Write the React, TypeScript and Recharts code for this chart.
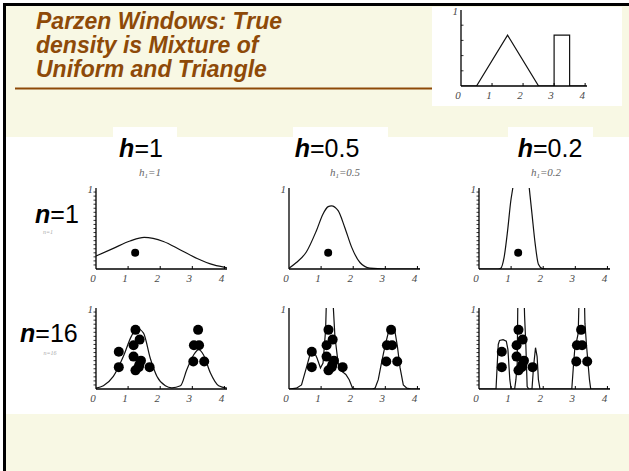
import React from "react";
import { ComposedChart, Line, Scatter, XAxis, YAxis } from "recharts";

type Pt = [number, number];

// ---- axis ticks -------------------------------------------------------
const xTickValues = [0, 1, 2, 3, 4];
const yDenseTicks = [
  0.05, 0.1, 0.15, 0.2, 0.25, 0.3, 0.35, 0.4, 0.45, 0.5,
  0.55, 0.6, 0.65, 0.7, 0.75, 0.8, 0.85, 0.9, 0.95, 1,
];
const yTopOnly = [1];
const insetYTicks = [0.2, 0.4, 0.6, 0.8, 1];

// ---- true density: triangle + uniform ---------------------------------
const trueDensity: Pt[] = [
  [0, 0], [0.5, 0], [1.5, 0.67], [2.5, 0], [3, 0], [3, 0.67], [3.5, 0.67], [3.5, 0], [4, 0],
];

// ---- samples ----------------------------------------------------------
const singleSampleX = [1.22];
const singleSampleY = [0.2];
const samplesX = [1.23, 1.36, 1.17, 0.71, 1.17, 1.4, 0.71, 1.23, 1.33, 1.67, 1.35, 3.18, 3.05, 3.21, 3.03, 3.37];
const samplesY = [0.73, 0.61, 0.54, 0.46, 0.4, 0.35, 0.27, 0.23, 0.27, 0.27, 0.3, 0.73, 0.54, 0.54, 0.34, 0.34];

// ---- Parzen estimates, n = 1 ------------------------------------------
const estH1N1: Pt[] = [
  [0, 0.16], [0.54, 0.255], [1.06, 0.345], [1.5, 0.39], [2.1, 0.34], [2.63, 0.235],
  [3.15, 0.13], [3.67, 0.05], [4.08, 0.015],
];
const estH05N1: Pt[] = [
  [0, 0.01], [0.23, 0.08], [0.54, 0.21], [0.85, 0.47], [1.06, 0.68], [1.22, 0.77],
  [1.32, 0.78], [1.53, 0.72], [1.74, 0.51], [1.95, 0.27], [2.21, 0.08], [2.52, 0.01],
  [3, 0], [4.08, 0],
];
const estH02N1: Pt[] = [
  [0, 0], [0.6, 0], [0.68, 0.01], [0.78, 0.14], [0.89, 0.47], [0.99, 0.84], [1.06, 1.02],
  [1.3, 2.0], [1.56, 1.02], [1.65, 0.68], [1.75, 0.31], [1.85, 0.06], [1.98, 0.005],
  [2.1, 0], [4.08, 0],
];

// ---- Parzen estimates, n = 16 -----------------------------------------
const estH1N16: Pt[] = [
  [0, 0.01], [0.23, 0.04], [0.54, 0.155], [0.85, 0.4], [1.1, 0.65], [1.27, 0.75],
  [1.48, 0.69], [1.69, 0.38], [1.9, 0.155], [2.16, 0.04], [2.36, 0.015], [2.63, 0.04],
  [2.83, 0.24], [3.04, 0.42], [3.2, 0.485], [3.35, 0.42], [3.56, 0.2], [3.82, 0.04],
  [4.08, 0.01],
];
const estH05N16: Pt[] = [
  [0, 0], [0.23, 0.01], [0.39, 0.05], [0.54, 0.26], [0.65, 0.42], [0.75, 0.49],
  [0.875, 0.38], [0.98, 0.26], [1.06, 0.32], [1.14, 0.73], [1.18, 1.3], [1.26, 1.5],
  [1.34, 1.3], [1.43, 0.65], [1.53, 0.32], [1.64, 0.22], [1.77, 0.18], [1.875, 0.115],
  [1.98, 0.01], [2.1, 0], [2.6, 0], [2.68, 0.01], [2.78, 0.115], [2.89, 0.34],
  [2.99, 0.53], [3.09, 0.69], [3.22, 0.77], [3.3, 0.71], [3.375, 0.53], [3.46, 0.26],
  [3.56, 0.05], [3.67, 0.01], [3.8, 0], [4.08, 0],
];
const estH02N16: Pt[] = [
  [0, 0], [0.53, 0], [0.56, 0.24], [0.6, 0.55], [0.64, 0.6], [0.75, 0.61], [0.85, 0.59],
  [0.9, 0.49], [0.96, 0.115], [1.0, 0], [1.11, 0], [1.15, 0.115], [1.19, 0.32],
  [1.22, 1.5], [1.3, 1.8], [1.38, 1.5], [1.42, 0.9], [1.46, 0.53], [1.5, 0.03],
  [1.55, 0], [1.65, 0], [1.7, 0.28], [1.76, 0.51], [1.81, 0.4], [1.85, 0.115], [1.9, 0],
  [2.89, 0], [2.94, 0.28], [2.99, 0.53], [3.04, 0.59], [3.09, 0.69], [3.14, 1.5],
  [3.26, 1.5], [3.3, 0.81], [3.35, 0.53], [3.44, 0.115], [3.48, 0], [4.08, 0],
];

// ---- styling ------------------------------------------------------------
const FONT_SANS = "'Liberation Sans', Arial, sans-serif";
const FONT_SERIF = "'Liberation Serif', 'Times New Roman', serif";
const BEIGE = "#F8F8E4";
const BROWN = "#8E4A08";
const TICK_GRAY = "#4a4a4a";

const toRows = (pts: Pt[]) => pts.map(([x, y]) => ({ x, y }));
const zipRows = (xs: number[], ys: number[]) => xs.map((x, i) => ({ x, y: ys[i] }));

interface PanelProps {
  x0: number;
  y1: number;
  w: number;
  h: number;
  xMax: number;
  curve: Pt[];
  curveType: "monotone" | "linear";
  dots?: { x: number; y: number }[];
  dotR?: number;
  yTicks: number[];
  tickInside?: boolean;
}

function Panel(p: PanelProps) {
  // y-axis takes 1px, x-axis takes 1px; margins place the plot box at (x0, y1)
  const m = { top: 12, right: 12, bottom: 21, left: 29 };

  const XTick = (t: any) => {
    const v = t.payload.value;
    return (
      <g>
        {v !== 0 && <line x1={t.x} x2={t.x} y1={t.y} y2={t.y - 3} stroke="#000" strokeWidth={1} />}
        <text
          x={t.x - 3}
          y={t.y + 13}
          textAnchor="middle"
          fontFamily={FONT_SERIF}
          fontStyle="italic"
          fontSize={11}
          fill={TICK_GRAY}
        >
          {v}
        </text>
      </g>
    );
  };

  const YTick = (t: any) => {
    const v = t.payload.value;
    const dir = p.tickInside ? 1 : -1;
    if (v === 1) {
      return (
        <text
          x={t.x - 3}
          y={t.y + 5}
          textAnchor="end"
          fontFamily={FONT_SERIF}
          fontStyle="italic"
          fontSize={11}
          fill={TICK_GRAY}
        >
          1
        </text>
      );
    }
    return <line x1={t.x} x2={t.x + dir * 2.5} y1={t.y} y2={t.y} stroke="#000" strokeWidth={0.8} />;
  };

  return (
    <div style={{ position: "absolute", left: p.x0 - m.left - 1, top: p.y1 - m.top }}>
      <ComposedChart width={m.left + 1 + p.w + m.right} height={m.top + p.h + 1 + m.bottom} margin={m}>
        <XAxis
          type="number"
          dataKey="x"
          domain={[0, p.xMax]}
          ticks={xTickValues}
          interval={0}
          allowDataOverflow
          height={1}
          tickSize={0}
          tickMargin={0}
          tickLine={false}
          axisLine={{ stroke: "#000", strokeWidth: 1.3 }}
          tick={XTick}
        />
        <YAxis
          type="number"
          dataKey="y"
          domain={[0, 1]}
          ticks={p.yTicks}
          interval={0}
          allowDataOverflow
          width={1}
          tickSize={0}
          tickMargin={0}
          tickLine={false}
          axisLine={{ stroke: "#000", strokeWidth: 1.3 }}
          tick={YTick}
        />
        <Line
          data={toRows(p.curve)}
          dataKey="y"
          type={p.curveType}
          stroke="#111"
          strokeWidth={1.2}
          dot={false}
          isAnimationActive={false}
        />
        {p.dots && (
          <Scatter
            data={p.dots}
            fill="#000"
            isAnimationActive={false}
            shape={(s: any) => <circle cx={s.cx} cy={s.cy} r={p.dotR} fill="#000" />}
          />
        )}
      </ComposedChart>
    </div>
  );
}

const COLS = [96, 289, 479];
const ROWS = [188, 308];
const PW = 131;
const PH = 81;
const XMAX = 4.08;

export default function App() {
  const one = zipRows(singleSampleX, singleSampleY);
  const many = zipRows(samplesX, samplesY);

  const hLabel = (cx: number, val: string) => (
    <text x={cx} y={157} textAnchor="middle" fontFamily={FONT_SANS} fontSize={25} fill="#000">
      <tspan fontWeight="bold" fontStyle="italic">h</tspan>
      <tspan>={val}</tspan>
    </text>
  );
  const hSub = (cx: number, val: string) => (
    <text x={cx} y={176} textAnchor="middle" fontFamily={FONT_SERIF} fontStyle="italic" fontSize={11} fill="#666">
      <tspan>h</tspan>
      <tspan fontSize={7} dy={2}>1</tspan>
      <tspan dy={-2}>={val}</tspan>
    </text>
  );

  return (
    <div style={{ position: "absolute", left: 0, top: 0, width: 629, height: 471, overflow: "hidden", background: "#fff" }}>
      <svg width={629} height={471} style={{ position: "absolute", left: 0, top: 0 }}>
        {/* slide frame */}
        <rect x={0} y={0} width={629} height={471} fill="#fff" />
        <rect x={3} y={3} width={626} height={468} fill="#000" />
        <rect x={6} y={6} width={623} height={465} fill={BEIGE} />

        {/* title */}
        <g fontFamily={FONT_SANS} fontWeight="bold" fontStyle="italic" fontSize={23} fill={BROWN}>
          <text x={36} y={29}>Parzen Windows: True</text>
          <text x={36} y={53}>density is Mixture of</text>
          <text x={36} y={77}>Uniform and Triangle</text>
        </g>
        <line x1={15} x2={432} y1={88.5} y2={88.5} stroke={BROWN} strokeWidth={2} />

        {/* inset background */}
        <rect x={432} y={7} width={190} height={99} fill="#fff" />

        {/* plot grid background */}
        <rect x={6} y={137} width={623} height={277} fill="#fff" />
        <rect x={113} y={127} width={64} height={12} fill="#fff" />
        <rect x={293} y={127} width={95} height={12} fill="#fff" />
        <rect x={508} y={127} width={85} height={12} fill="#fff" />

        {/* column headings */}
        {hLabel(141, "1")}
        {hLabel(327, "0.5")}
        {hLabel(550, "0.2")}
        {hSub(150, "1")}
        {hSub(345, "0.5")}
        {hSub(546, "0.2")}

        {/* row headings */}
        <text x={35} y={223} fontFamily={FONT_SANS} fontSize={25} fill="#000">
          <tspan fontWeight="bold" fontStyle="italic">n</tspan>
          <tspan>=1</tspan>
        </text>
        <text x={48} y={234} textAnchor="middle" fontFamily={FONT_SERIF} fontStyle="italic" fontSize={6} fill="#aaa">
          n=1
        </text>
        <text x={20} y={342} fontFamily={FONT_SANS} fontSize={25} fill="#000">
          <tspan fontWeight="bold" fontStyle="italic">n</tspan>
          <tspan>=16</tspan>
        </text>
        <text x={50} y={355} textAnchor="middle" fontFamily={FONT_SERIF} fontStyle="italic" fontSize={6} fill="#aaa">
          n=16
        </text>
      </svg>

      {/* true density inset */}
      <Panel
        x0={461}
        y1={10}
        w={126}
        h={76}
        xMax={4.06}
        curve={trueDensity}
        curveType="linear"
        yTicks={insetYTicks}
        tickInside
      />

      {/* n = 1 */}
      <Panel x0={COLS[0]} y1={ROWS[0]} w={PW} h={PH} xMax={XMAX} curve={estH1N1} curveType="monotone" dots={one} dotR={4} yTicks={yDenseTicks} />
      <Panel x0={COLS[1]} y1={ROWS[0]} w={PW} h={PH} xMax={XMAX} curve={estH05N1} curveType="monotone" dots={one} dotR={4} yTicks={yTopOnly} />
      <Panel x0={COLS[2]} y1={ROWS[0]} w={PW} h={PH} xMax={XMAX} curve={estH02N1} curveType="monotone" dots={one} dotR={4} yTicks={yDenseTicks} />

      {/* n = 16 */}
      <Panel x0={COLS[0]} y1={ROWS[1]} w={PW} h={PH} xMax={XMAX} curve={estH1N16} curveType="monotone" dots={many} dotR={5} yTicks={yDenseTicks} />
      <Panel x0={COLS[1]} y1={ROWS[1]} w={PW} h={PH} xMax={XMAX} curve={estH05N16} curveType="linear" dots={many} dotR={5} yTicks={yTopOnly} />
      <Panel x0={COLS[2]} y1={ROWS[1]} w={PW} h={PH} xMax={XMAX} curve={estH02N16} curveType="linear" dots={many} dotR={5} yTicks={yDenseTicks} />
    </div>
  );
}
